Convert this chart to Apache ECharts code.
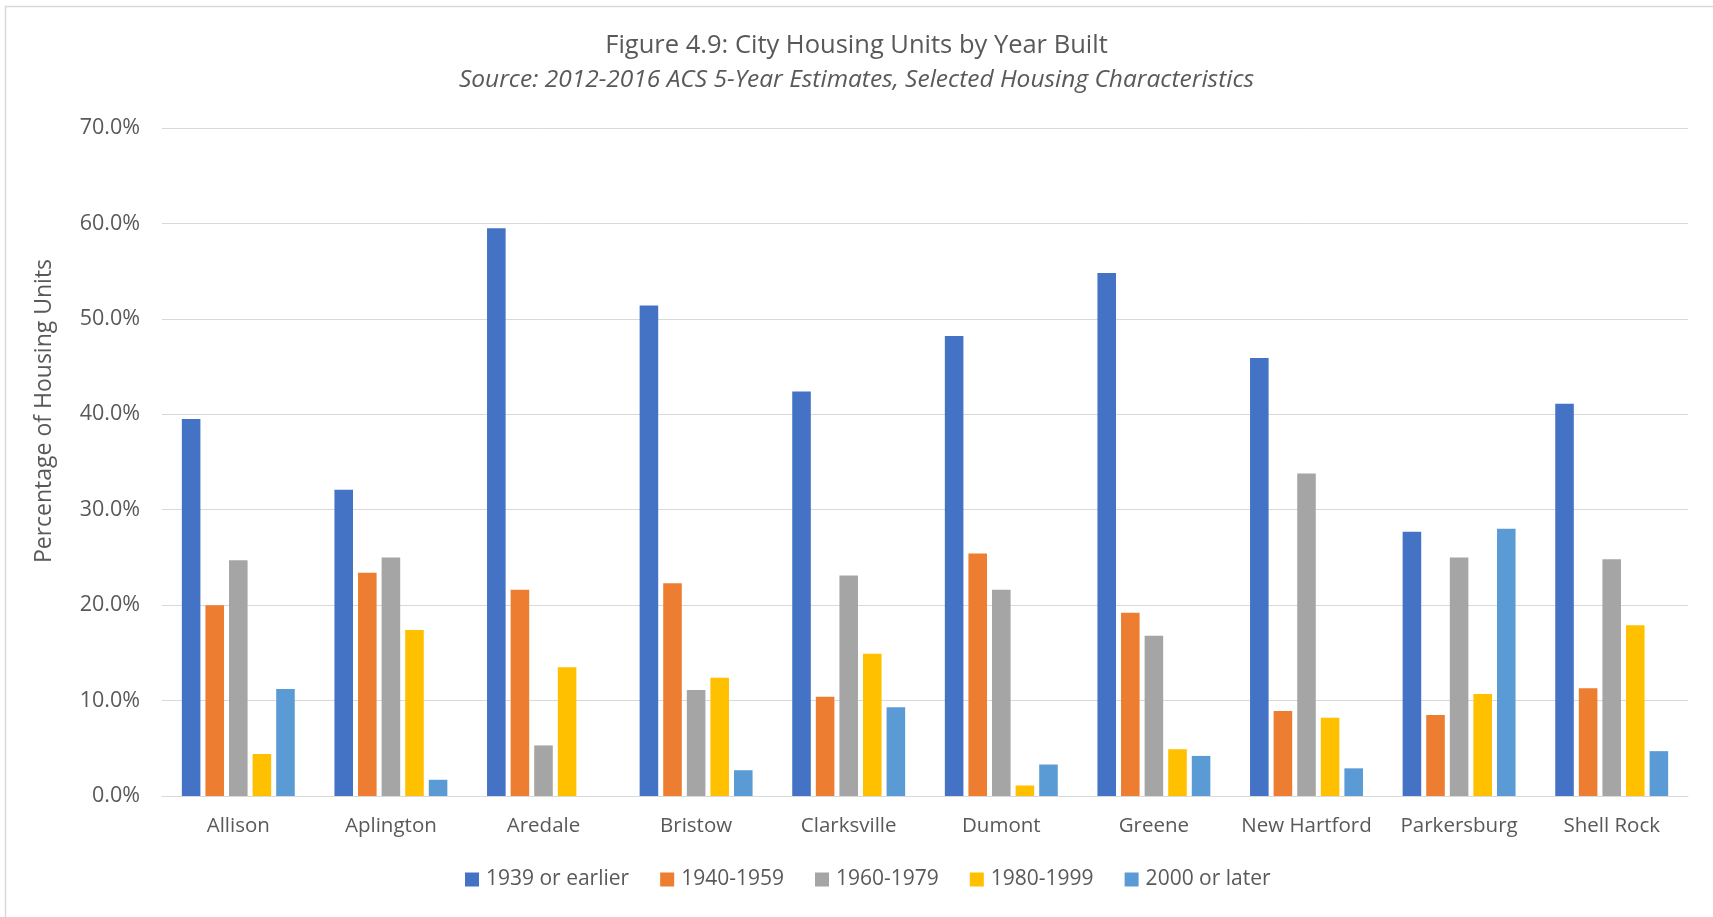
<!DOCTYPE html>
<html>
<head>
<meta charset="utf-8">
<script src="https://cdn.jsdelivr.net/npm/echarts@6/dist/echarts.min.js"></script>
<style>
html,body{margin:0;padding:0;background:#fff;}
#chart{width:1713px;height:917px;}
</style>
</head>
<body>
<div id="chart"></div>
<script>
const categories = ["Allison","Aplington","Aredale","Bristow","Clarksville","Dumont","Greene","New Hartford","Parkersburg","Shell Rock"];
const seriesNames = ["1939 or earlier","1940-1959","1960-1979","1980-1999","2000 or later"];
const s1939 = [39.5, 32.1, 59.5, 51.4, 42.4, 48.2, 54.8, 45.9, 27.7, 41.1];
const s1940 = [20.0, 23.4, 21.6, 22.3, 10.4, 25.4, 19.2, 8.9, 8.5, 11.3];
const s1960 = [24.7, 25.0, 5.3, 11.1, 23.1, 21.6, 16.8, 33.8, 25.0, 24.8];
const s1980 = [4.4, 17.4, 13.5, 12.4, 14.9, 1.1, 4.9, 8.2, 10.7, 17.9];
const s2000 = [11.2, 1.7, 0, 2.7, 9.3, 3.3, 4.2, 2.9, 28.0, 4.7];
const colors = ["#4472C4","#ED7D31","#A5A5A5","#FFC000","#5B9BD5"];
const titleText = "Figure 4.9: City Housing Units by Year Built";
const subtitleText = "Source: 2012-2016 ACS 5-Year Estimates, Selected Housing Characteristics";
const yAxisName = "Percentage of Housing Units";

const allData = [s1939, s1940, s1960, s1980, s2000];
const font = "'Open Sans', 'Noto Sans', sans-serif";
const chart = echarts.init(document.getElementById('chart'), null, {renderer:'canvas'});
chart.setOption({
  animation: false,
  backgroundColor: '#fff',
  color: colors,
  title: [
    {text: titleText, left: 'center', top: 28, textStyle: {fontFamily: font, fontSize: 25.5, fontWeight: 'normal', color: '#595959'}},
    {text: subtitleText, left: 'center', top: 63, textStyle: {fontFamily: font, fontSize: 24.5, fontWeight: 'normal', fontStyle: 'italic', color: '#595959'}}
  ],
  graphic: [
    {type: 'rect', shape: {x: 5.5, y: 6.5, width: 1730, height: 930}, style: {fill: 'none', stroke: '#D9D9D9', lineWidth: 1.5}, silent: true},
    {type: 'text', x: 44, y: 411, rotation: Math.PI/2, style: {text: yAxisName, fontFamily: font, fontSize: 23, fill: '#595959', align: 'center', verticalAlign: 'middle'}}
  ],
  legend: {
    data: seriesNames,
    top: 864,
    left: 460,
    itemWidth: 14,
    itemHeight: 14,
    itemGap: 31,
    icon: 'rect',
    textStyle: {fontFamily: font, fontSize: 21, color: '#595959', padding: [0,0,0,2]}
  },
  grid: {left: 162, right: 25, top: 128, bottom: 121, containLabel: false},
  xAxis: {
    type: 'category',
    data: categories,
    axisLine: {lineStyle: {color: '#D9D9D9', width: 1}},
    axisTick: {show: false},
    axisLabel: {fontFamily: font, fontSize: 20.5, color: '#595959', margin: 20, interval: 0, hideOverlap: false}
  },
  yAxis: {
    type: 'value',
    min: 0, max: 70, interval: 10,
    axisLine: {show: false},
    axisTick: {show: false},
    splitLine: {lineStyle: {color: '#D9D9D9', width: 1}},
    axisLabel: {fontFamily: font, fontSize: 21.5, color: '#595959', margin: 22, formatter: v => v.toFixed(1) + '%'}
  },
  series: seriesNames.map((n, i) => ({
    name: n,
    type: 'bar',
    data: allData[i],
    barGap: '27%',
    barCategoryGap: '26%',
    itemStyle: {color: colors[i]}
  }))
});
</script>
</body>
</html>
